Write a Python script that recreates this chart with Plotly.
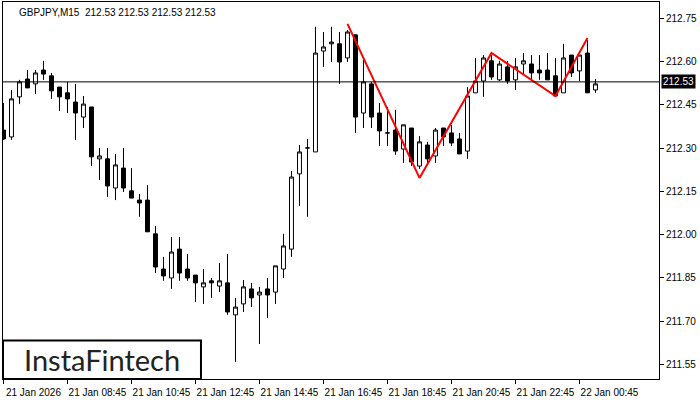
import plotly.graph_objects as go

# ---- data (GBPJPY, M15) ----
bar_index = list(range(75))
opens = [212.363, 212.339, 212.478, 212.540, 212.523, 212.571, 212.551, 212.512, 212.492, 212.460,
         212.408, 212.443, 212.263, 212.263, 212.162, 212.231, 212.152, 212.120, 212.120, 212.003,
         211.881, 211.850, 211.950, 211.881, 211.860, 211.819, 211.840, 211.822, 211.833, 211.722,
         211.760, 211.812, 211.791, 211.812, 211.801, 211.881, 211.950, 212.211, 212.301, 212.287,
         212.637, 212.662, 212.662, 212.613, 212.693, 212.422, 212.523, 212.422, 212.353, 212.363,
         212.297, 212.370, 212.238, 212.311, 212.273, 212.370, 212.353, 212.332, 212.290, 212.492,
         212.533, 212.603, 212.537, 212.582, 212.537, 212.592, 212.592, 212.571, 212.571, 212.551,
         212.492, 212.623, 212.568, 212.630, 212.502]
highs = [212.457, 212.502, 212.537, 212.571, 212.571, 212.603, 212.561, 212.512, 212.530, 212.523,
         212.481, 212.443, 212.301, 212.301, 212.280, 212.301, 212.231, 212.141, 212.172, 212.030,
         211.923, 211.992, 211.992, 211.933, 211.860, 211.881, 211.850, 211.902, 211.933, 211.781,
         211.843, 211.833, 211.819, 211.850, 211.892, 212.003, 212.221, 212.311, 212.332, 212.721,
         212.703, 212.721, 212.703, 212.710, 212.693, 212.606, 212.530, 212.457, 212.443, 212.433,
         212.381, 212.370, 212.342, 212.322, 212.370, 212.370, 212.381, 212.353, 212.512, 212.613,
         212.623, 212.623, 212.603, 212.603, 212.613, 212.630, 212.623, 212.623, 212.630, 212.613,
         212.662, 212.623, 212.623, 212.675, 212.540]
lows = [212.329, 212.329, 212.453, 212.509, 212.488, 212.537, 212.471, 212.429, 212.422, 212.329,
        212.370, 212.238, 212.190, 212.131, 212.120, 212.148, 212.127, 212.062, 212.010, 211.867,
        211.840, 211.812, 211.840, 211.840, 211.767, 211.760, 211.781, 211.801, 211.722, 211.559,
        211.732, 211.749, 211.621, 211.711, 211.760, 211.850, 211.923, 212.100, 212.062, 212.287,
        212.582, 212.599, 212.523, 212.599, 212.353, 212.370, 212.370, 212.308, 212.308, 212.277,
        212.249, 212.238, 212.228, 212.249, 212.249, 212.308, 212.308, 212.280, 212.263, 212.492,
        212.478, 212.537, 212.533, 212.523, 212.502, 212.557, 212.533, 212.537, 212.537, 212.481,
        212.492, 212.547, 212.533, 212.492, 212.492]
closes = [212.332, 212.471, 212.530, 212.509, 212.561, 212.557, 212.499, 212.478, 212.471, 212.422,
          212.453, 212.270, 212.273, 212.169, 212.242, 212.162, 212.127, 212.110, 212.010, 211.888,
          211.857, 211.940, 211.867, 211.850, 211.833, 211.833, 211.833, 211.840, 211.732, 211.749,
          211.819, 211.781, 211.801, 211.791, 211.892, 211.961, 212.200, 212.287, 212.301, 212.630,
          212.651, 212.668, 212.599, 212.703, 212.408, 212.530, 212.408, 212.360, 212.353, 212.290,
          212.381, 212.252, 212.322, 212.263, 212.363, 212.339, 212.318, 212.280, 212.481, 212.533,
          212.613, 212.547, 212.592, 212.533, 212.582, 212.603, 212.561, 212.561, 212.537, 212.481,
          212.613, 212.561, 212.623, 212.492, 212.523]

# pattern (red zig-zag) points: bar index and price
pattern_index = [43, 52, 61, 69, 73]
pattern_price = [212.731, 212.197, 212.630, 212.481, 212.682]

current_price = 212.53
title_text = "GBPJPY,M15  212.53 212.53 212.53 212.53"

time_tick_index = [0, 8, 16, 24, 32, 40, 48, 56, 64, 72]
time_tick_text = ["21 Jan 2026", "21 Jan 08:45", "21 Jan 10:45", "21 Jan 12:45", "21 Jan 14:45",
                  "21 Jan 16:45", "21 Jan 18:45", "21 Jan 20:45", "21 Jan 22:45", "22 Jan 00:45"]
price_ticks = [211.55, 211.70, 211.85, 212.00, 212.15, 212.30, 212.45, 212.60, 212.75]
price_tick_text = ["211.55", "211.70", "211.85", "212.00", "212.15", "212.30", "212.45", "212.60", "212.75"]

FONT = "Liberation Sans, Arial, sans-serif"

fig = go.Figure()

fig.add_trace(go.Candlestick(
    x=bar_index, open=opens, high=highs, low=lows, close=closes,
    increasing=dict(fillcolor="white", line=dict(color="black", width=1)),
    decreasing=dict(fillcolor="black", line=dict(color="black", width=1)),
    whiskerwidth=0, showlegend=False, hoverinfo="skip",
))

fig.add_trace(go.Scatter(
    x=pattern_index, y=pattern_price, mode="lines",
    line=dict(color="#ff0000", width=2), showlegend=False, hoverinfo="skip",
))

# current price horizontal line
fig.add_hline(y=current_price, line=dict(color="black", width=1), layer="above")

fig.update_layout(
    width=700, height=400,
    margin=dict(l=3, r=41, t=2, b=21),
    paper_bgcolor="white", plot_bgcolor="white",
    font=dict(family=FONT, size=10, color="black"),
    showlegend=False,
    xaxis=dict(
        range=[-0.06, 81.94], rangeslider=dict(visible=False),
        showgrid=False, zeroline=False,
        showline=True, linecolor="black", linewidth=1, mirror=True,
        tickmode="array", tickvals=time_tick_index, ticktext=time_tick_text,
        ticks="outside", ticklen=4, tickcolor="black", tickangle=0,
        ticklabelshift=30, ticklabelstandoff=0,
        tickfont=dict(size=10, family=FONT, color="black"),
    ),
    yaxis=dict(
        range=[211.4996, 212.807], side="right",
        showgrid=False, zeroline=False,
        showline=True, linecolor="black", linewidth=1, mirror=True,
        tickmode="array", tickvals=price_ticks, ticktext=price_tick_text,
        ticks="outside", ticklen=4, tickcolor="black",
        tickfont=dict(size=10, family=FONT, color="black"),
    ),
)

# current price tag on the right axis
fig.add_annotation(
    xref="paper", yref="y", x=1, y=current_price, xanchor="left", yanchor="middle",
    xshift=2, text=f"{current_price:.2f}", showarrow=False,
    bgcolor="black", font=dict(color="white", size=10, family=FONT), borderpad=1,
)

# title text
fig.add_annotation(
    xref="paper", yref="paper", x=0, y=1, xanchor="left", yanchor="top",
    xshift=14, yshift=-3, text=title_text, showarrow=False,
    font=dict(size=10, family=FONT, color="black"),
)

# logo box
fig.add_shape(
    type="rect", xref="paper", yref="paper", x0=0.0, x1=0.3018, y0=0.0, y1=0.102,
    line=dict(color="black", width=2), fillcolor="white", layer="above",
)
fig.add_annotation(
    xref="paper", yref="paper", x=0.151, y=0.051, xanchor="center", yanchor="middle",
    text="InstaFintech", showarrow=False,
    font=dict(size=29, family="Lato, Noto Sans, sans-serif", color="#222222"),
)

fig.write_html("out.html", config={"displayModeBar": False, "staticPlot": True},
               post_script="document.body.style.margin='0';document.body.style.padding='0';")
